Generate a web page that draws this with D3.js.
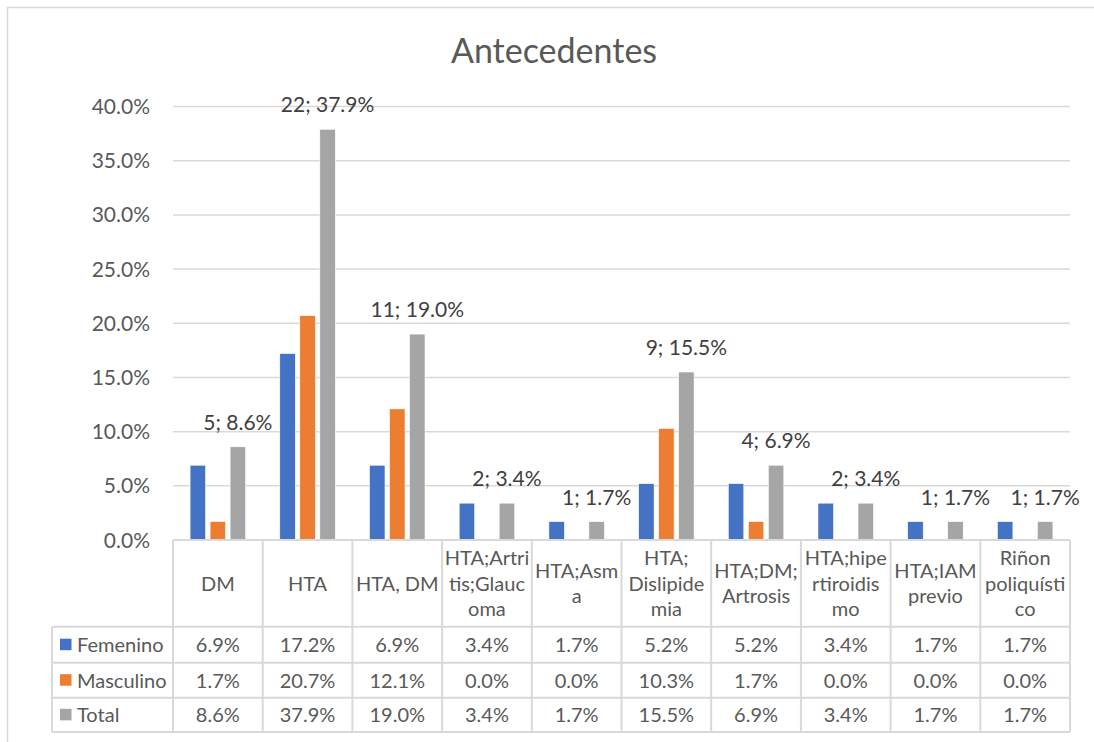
<!DOCTYPE html>
<html><head><meta charset="utf-8">
<script src="https://cdn.jsdelivr.net/npm/d3@7"></script>
<style>html,body{margin:0;padding:0;background:#fff;}svg{display:block;}</style>
</head><body>
<script>
const title = "Antecedentes";
const categories = ["DM","HTA","HTA, DM","HTA;Artritis;Glaucoma","HTA;Asma","HTA; Dislipidemia","HTA;DM; Artrosis","HTA;hipertiroidismo","HTA;IAM previo","Riñon poliquístico"];
const categoryLines = [["DM"],["HTA"],["HTA, DM"],["HTA;Artri","tis;Glauc","oma"],["HTA;Asm","a"],["HTA;","Dislipide","mia"],["HTA;DM;","Artrosis"],["HTA;hipe","rtiroidis","mo"],["HTA;IAM","previo"],["Riñon","poliquísti","co"]];
const seriesNames = ["Femenino","Masculino","Total"];
const femenino = [6.9,17.2,6.9,3.4,1.7,5.2,5.2,3.4,1.7,1.7];
const masculino = [1.7,20.7,12.1,0.0,0.0,10.3,1.7,0.0,0.0,0.0];
const total = [8.6,37.9,19.0,3.4,1.7,15.5,6.9,3.4,1.7,1.7];
const totalCounts = [5,22,11,2,1,9,4,2,1,1];
const yTicks = [0,5,10,15,20,25,30,35,40];
const colors = ["#4472C4","#ED7D31","#A5A5A5"];

const W=1094,H=742;
const font="Lato, 'Noto Sans', sans-serif";
const txt="#595959", grid="#D9D9D9";
const svg=d3.select("body").append("svg").attr("width",W).attr("height",H);
svg.append("rect").attr("x",7.5).attr("y",7.5).attr("width",1100).attr("height",760).attr("fill","#fff").attr("stroke",grid).attr("stroke-width",1.5);

svg.append("text").attr("x",554).attr("y",63).attr("text-anchor","middle").attr("font-family",font).attr("font-size",34).attr("fill",txt).text(title);

const x0=173,x1=1070,yTop=106.5,yBase=540;
const x=d3.scaleBand().domain(categories).range([x0,x1]).padding(0);
const y=d3.scaleLinear().domain([0,40]).range([yBase,yTop]);
const series=[femenino,masculino,total];
const bw=x.bandwidth();
const barW=bw*0.173, step=bw*0.223;

// gridlines
svg.append("g").selectAll("line").data(yTicks.filter(d=>d>0)).join("line")
  .attr("x1",x0).attr("x2",x1).attr("y1",d=>y(d)).attr("y2",d=>y(d))
  .attr("stroke",grid).attr("stroke-width",1.5);
// y labels
svg.append("g").selectAll("text").data(yTicks).join("text")
  .attr("x",150).attr("y",d=>y(d)+7.5).attr("text-anchor","end")
  .attr("font-family",font).attr("font-size",21).attr("fill",txt)
  .text(d=>d3.format(".1f")(d)+"%");

// bars
series.forEach((s,si)=>{
  svg.append("g").selectAll("rect").data(s).join("rect")
    .attr("x",(d,i)=>x(categories[i])+bw/2+(si-1)*step-barW/2)
    .attr("width",barW)
    .attr("y",d=>y(d)).attr("height",d=>yBase-y(d))
    .attr("fill",colors[si]).attr("stroke","#fff").attr("stroke-width",0.6);
});
// data labels on total
svg.append("g").selectAll("text").data(total).join("text")
  .attr("x",(d,i)=>x(categories[i])+bw/2+step)
  .attr("y",d=>y(d)-17).attr("text-anchor","middle")
  .attr("font-family",font).attr("font-size",21).attr("fill","#404040")
  .text((d,i)=>totalCounts[i]+"; "+d3.format(".1f")(d)+"%");

// data table
const rowTops=[540,626.7,662.7,697.7,732];
const tbl=svg.append("g").attr("stroke",grid).attr("stroke-width",2);
tbl.append("line").attr("x1",x0).attr("x2",x1).attr("y1",540).attr("y2",540);
[626.7,662.7,697.7,732].forEach(yy=>tbl.append("line").attr("x1",52).attr("x2",x1).attr("y1",yy).attr("y2",yy));
const bounds=categories.map(c=>x(c)).concat([x1]);
bounds.forEach(bx=>tbl.append("line").attr("x1",bx).attr("x2",bx).attr("y1",540).attr("y2",732));
tbl.append("line").attr("x1",52).attr("x2",52).attr("y1",626.7).attr("y2",732);

// header labels
const lh=25.7, hc=583;
categoryLines.forEach((lines,i)=>{
  const cx=x(categories[i])+bw/2;
  lines.forEach((ln,j)=>{
    svg.append("text").attr("x",cx).attr("y",hc+(j-(lines.length-1)/2)*lh+7.5)
      .attr("text-anchor","middle").attr("font-family",font).attr("font-size",20).attr("fill",txt).text(ln);
  });
});
// rows
series.forEach((s,si)=>{
  const cy=(rowTops[si+1]+rowTops[si+2])/2;
  svg.append("rect").attr("x",60).attr("y",cy-6).attr("width",11.5).attr("height",11.5).attr("fill",colors[si]);
  svg.append("text").attr("x",77).attr("y",cy+7.5).attr("font-family",font).attr("font-size",20).attr("fill",txt).text(seriesNames[si]);
  svg.append("g").selectAll("text").data(s).join("text")
    .attr("x",(d,i)=>x(categories[i])+bw/2).attr("y",cy+7.5).attr("text-anchor","middle")
    .attr("font-family",font).attr("font-size",20).attr("fill",txt)
    .text(d=>d3.format(".1f")(d)+"%");
});
</script>
</body></html>
